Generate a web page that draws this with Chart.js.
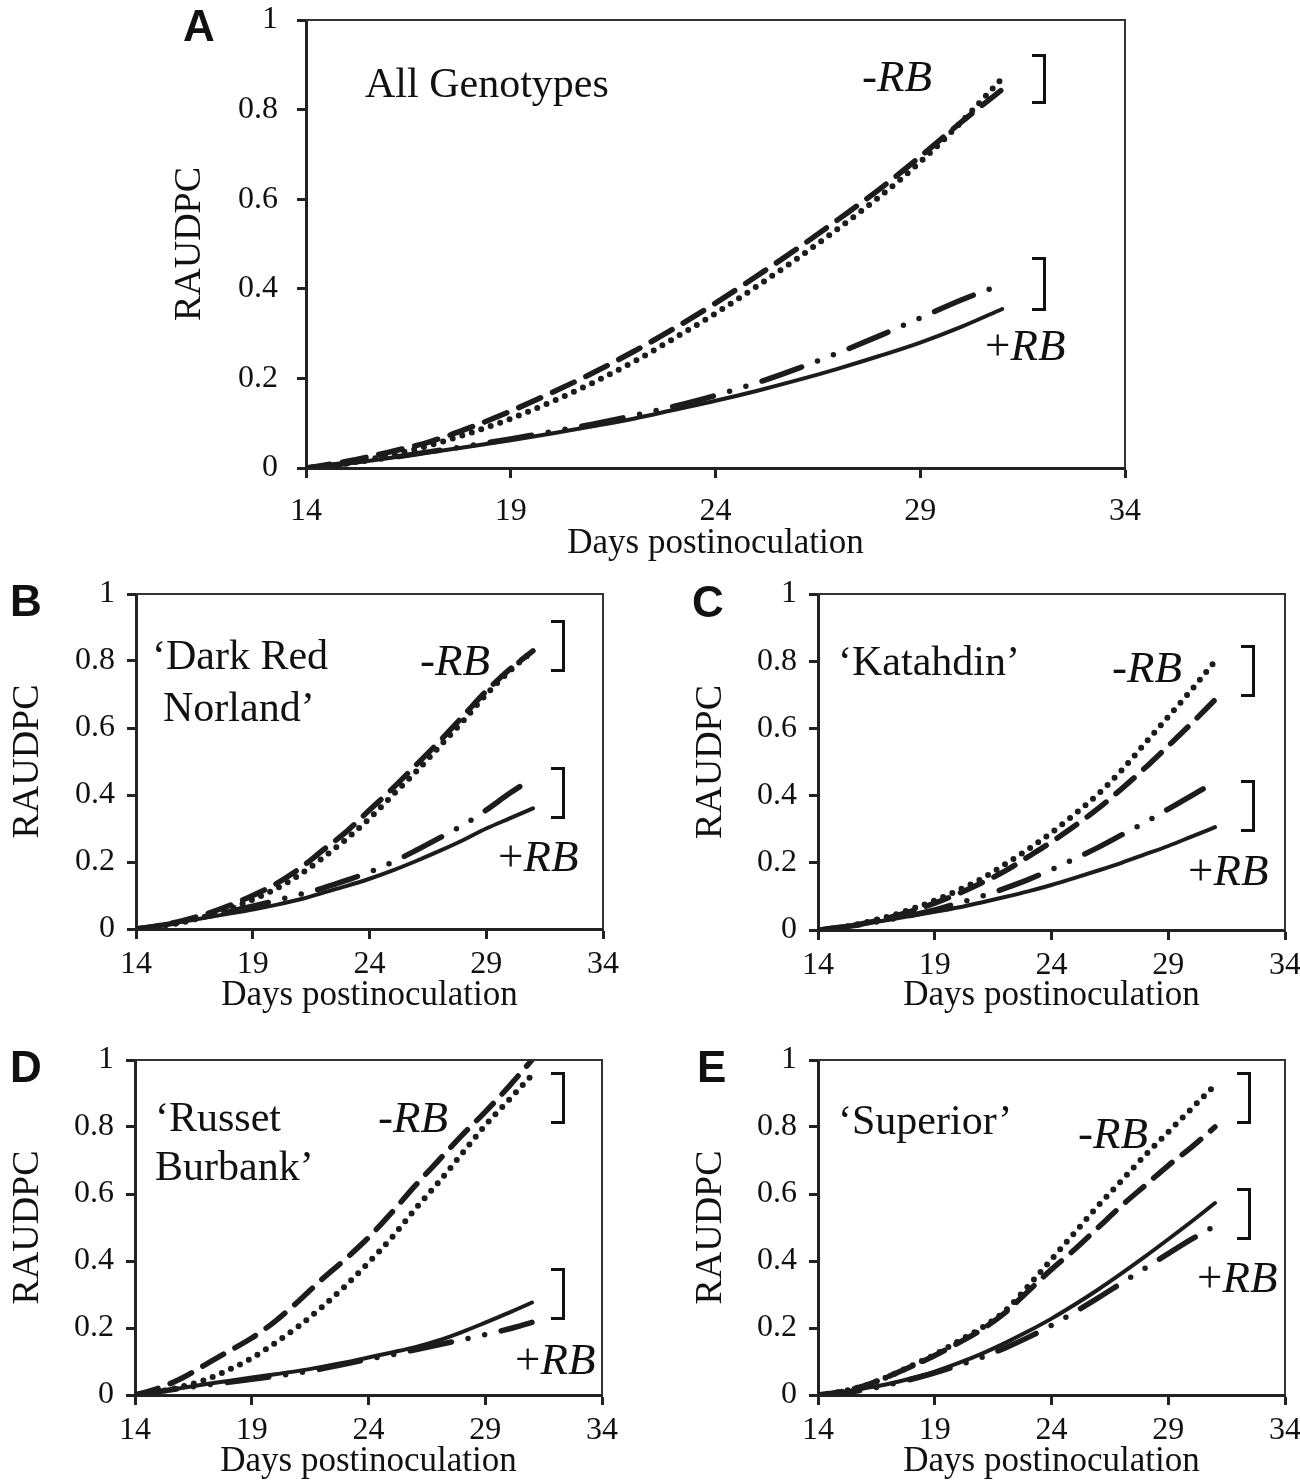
<!DOCTYPE html>
<html>
<head>
<meta charset="utf-8">
<script src="https://cdn.jsdelivr.net/npm/chart.js@4.4.1/dist/chart.umd.min.js"></script>
<style>
  html, body { margin:0; padding:0; background:#fff; overflow:hidden; }
  body { width:1300px; height:1483px; position:relative; font-family:"Liberation Serif","Times New Roman",serif; color:#111; }
  canvas { position:absolute; }
  .lbl { position:absolute; white-space:nowrap; line-height:1; font-size:42px; }
  .rb { position:absolute; white-space:nowrap; line-height:1; font-size:45px; }
  .letter { position:absolute; line-height:1; font-family:"Liberation Sans",Arial,sans-serif; font-weight:bold; font-size:44px; }
  .br { position:absolute; width:11px; border:3px solid #111; border-left:none; }
</style>
</head>
<body>
<canvas id="chartA" width="1300" height="585" style="left:0;top:-20px"></canvas>
<canvas id="chartB" width="650" height="463" style="left:0;top:554px"></canvas>
<canvas id="chartC" width="700" height="463" style="left:660px;top:554px"></canvas>
<canvas id="chartD" width="650" height="463" style="left:0;top:1020px"></canvas>
<canvas id="chartE" width="700" height="463" style="left:660px;top:1020px"></canvas>

<!-- panel A -->
<div class="letter" style="left:183px;top:4px">A</div>
<div class="lbl" style="left:365px;top:62px">All Genotypes</div>
<div class="rb" style="left:862px;top:54px">-<i>RB</i></div>
<div class="rb" style="left:985px;top:323px">+<i>RB</i></div>
<div class="br" style="left:1032px;top:54px;height:44px"></div>
<div class="br" style="left:1032px;top:257px;height:48px"></div>

<!-- panel B -->
<div class="letter" style="left:10px;top:579px">B</div>
<div class="lbl" style="left:152px;top:634px">‘Dark Red</div>
<div class="lbl" style="left:163px;top:686px">Norland’</div>
<div class="rb" style="left:420px;top:638px">-<i>RB</i></div>
<div class="rb" style="left:498px;top:834px">+<i>RB</i></div>
<div class="br" style="left:551px;top:620px;height:46px"></div>
<div class="br" style="left:551px;top:767px;height:46px"></div>

<!-- panel C -->
<div class="letter" style="left:692px;top:580px">C</div>
<div class="lbl" style="left:838px;top:640px">‘Katahdin’</div>
<div class="rb" style="left:1112px;top:645px">-<i>RB</i></div>
<div class="rb" style="left:1188px;top:848px">+<i>RB</i></div>
<div class="br" style="left:1241px;top:645px;height:46px"></div>
<div class="br" style="left:1241px;top:780px;height:46px"></div>

<!-- panel D -->
<div class="letter" style="left:10px;top:1045px">D</div>
<div class="lbl" style="left:155px;top:1096px">‘Russet</div>
<div class="lbl" style="left:155px;top:1145px">Burbank’</div>
<div class="rb" style="left:378px;top:1095px">-<i>RB</i></div>
<div class="rb" style="left:515px;top:1337px">+<i>RB</i></div>
<div class="br" style="left:551px;top:1072px;height:46px"></div>
<div class="br" style="left:551px;top:1268px;height:46px"></div>

<!-- panel E -->
<div class="letter" style="left:697px;top:1045px">E</div>
<div class="lbl" style="left:838px;top:1099px">‘Superior’</div>
<div class="rb" style="left:1078px;top:1111px">-<i>RB</i></div>
<div class="rb" style="left:1197px;top:1255px">+<i>RB</i></div>
<div class="br" style="left:1237px;top:1072px;height:46px"></div>
<div class="br" style="left:1237px;top:1188px;height:46px"></div>

<script>
// ====== DATA ======
const days = [14, 15, 16, 17, 18, 19, 20, 21, 22, 23, 24, 25, 26, 27, 28, 29, 30, 31];
const xTicks = [14, 19, 24, 29, 34];
const xTickLabels = ["14", "19", "24", "29", "34"];
const yTicks = [0, 0.2, 0.4, 0.6, 0.8, 1];
const yTickLabels = ["0", "0.2", "0.4", "0.6", "0.8", "1"];

// A: All Genotypes
const aDotted   = [0, 0.01, 0.028, 0.05, 0.078, 0.11, 0.148, 0.19, 0.237, 0.29, 0.345, 0.405, 0.468, 0.535, 0.605, 0.683, 0.772, 0.87];
const aDashed   = [0, 0.015, 0.035, 0.058, 0.09, 0.127, 0.168, 0.212, 0.26, 0.312, 0.368, 0.428, 0.49, 0.555, 0.622, 0.695, 0.772, 0.845];
const aDashDot  = [0, 0.01, 0.022, 0.036, 0.05, 0.065, 0.081, 0.098, 0.117, 0.138, 0.162, 0.19, 0.222, 0.257, 0.295, 0.335, 0.375, 0.41];
const aSolid    = [0, 0.01, 0.022, 0.035, 0.048, 0.062, 0.077, 0.093, 0.11, 0.13, 0.15, 0.172, 0.196, 0.222, 0.25, 0.28, 0.315, 0.355];

// B: Dark Red Norland
const bDotted   = [0, 0.008, 0.02, 0.038, 0.06, 0.088, 0.12, 0.162, 0.212, 0.268, 0.33, 0.4, 0.47, 0.545, 0.62, 0.7, 0.77, 0.83];
const bDashed   = [0, 0.01, 0.025, 0.045, 0.07, 0.1, 0.135, 0.18, 0.235, 0.29, 0.355, 0.42, 0.49, 0.56, 0.635, 0.71, 0.775, 0.83];
const bDashDot  = [0, 0.01, 0.022, 0.036, 0.052, 0.068, 0.085, 0.103, 0.122, 0.145, 0.17, 0.2, 0.235, 0.272, 0.31, 0.355, 0.405, 0.45];
const bSolid    = [0, 0.01, 0.022, 0.034, 0.046, 0.058, 0.072, 0.088, 0.108, 0.128, 0.15, 0.175, 0.203, 0.233, 0.265, 0.3, 0.33, 0.36];

// C: Katahdin
const cDotted   = [0, 0.008, 0.022, 0.04, 0.062, 0.088, 0.118, 0.152, 0.195, 0.24, 0.29, 0.345, 0.405, 0.475, 0.555, 0.635, 0.715, 0.8];
const cDashed   = [0, 0.008, 0.02, 0.036, 0.056, 0.08, 0.108, 0.14, 0.175, 0.218, 0.262, 0.31, 0.362, 0.42, 0.482, 0.548, 0.615, 0.685];
const cDashDot  = [0, 0.008, 0.018, 0.03, 0.044, 0.06, 0.08, 0.1, 0.124, 0.15, 0.18, 0.212, 0.246, 0.283, 0.32, 0.36, 0.4, 0.44];
const cSolid    = [0, 0.008, 0.018, 0.03, 0.042, 0.054, 0.067, 0.082, 0.098, 0.115, 0.134, 0.155, 0.177, 0.2, 0.225, 0.25, 0.278, 0.306];

// D: Russet Burbank
const dDotted   = [0, 0.01, 0.025, 0.045, 0.075, 0.11, 0.155, 0.205, 0.262, 0.325, 0.395, 0.47, 0.555, 0.635, 0.72, 0.805, 0.88, 0.955];
const dDashed   = [0, 0.02, 0.05, 0.09, 0.13, 0.17, 0.22, 0.28, 0.345, 0.405, 0.47, 0.545, 0.625, 0.7, 0.775, 0.845, 0.92, 1.0];
const dDashDot  = [0, 0.01, 0.02, 0.029, 0.038, 0.047, 0.056, 0.066, 0.078, 0.092, 0.107, 0.12, 0.135, 0.15, 0.165, 0.18, 0.197, 0.217];
const dSolid    = [0, 0.01, 0.021, 0.032, 0.042, 0.052, 0.062, 0.072, 0.084, 0.097, 0.112, 0.127, 0.143, 0.163, 0.188, 0.216, 0.245, 0.276];

// E: Superior
const eDotted   = [0, 0.01, 0.028, 0.055, 0.087, 0.12, 0.16, 0.2, 0.25, 0.325, 0.405, 0.485, 0.565, 0.64, 0.715, 0.785, 0.855, 0.925];
const eDashed   = [0, 0.01, 0.028, 0.055, 0.085, 0.118, 0.155, 0.195, 0.245, 0.31, 0.375, 0.435, 0.5, 0.565, 0.625, 0.685, 0.74, 0.8];
const eDashDot  = [0, 0.006, 0.016, 0.03, 0.047, 0.066, 0.088, 0.112, 0.14, 0.172, 0.208, 0.248, 0.29, 0.334, 0.378, 0.422, 0.465, 0.505];
const eSolid    = [0, 0.008, 0.02, 0.033, 0.05, 0.07, 0.095, 0.123, 0.155, 0.19, 0.228, 0.27, 0.315, 0.363, 0.413, 0.465, 0.518, 0.573];

// ====== STYLE ======
const SERIF = "'Liberation Serif', 'Times New Roman', serif";
const INK = "#1c1c1c";

const lineStyles = {
  dotted:  { borderWidth: 6, borderDash: [0, 10] },
  dashed:  { borderWidth: 5.5, borderDash: [24, 13] },
  dashDot: { borderWidth: 5.5, borderDash: [42, 17, 0, 17, 0, 17] },
  solid:   { borderWidth: 4, borderDash: [] }
};

// outline of the plot box (top and right sides)
const frame = {
  id: "frame",
  afterDraw(chart) {
    const { ctx, chartArea: a } = chart;
    ctx.save();
    ctx.strokeStyle = "#333";
    ctx.lineWidth = 2;
    ctx.beginPath();
    ctx.moveTo(a.left, a.top);
    ctx.lineTo(a.right, a.top);
    ctx.lineTo(a.right, a.bottom);
    ctx.stroke();
    ctx.restore();
  }
};

function series(values, style) {
  return {
    data: days.map((d, i) => ({ x: d, y: values[i] })),
    borderColor: INK,
    borderCapStyle: "round",
    borderJoinStyle: "round",
    pointRadius: 0,
    cubicInterpolationMode: "monotone",
    ...lineStyles[style]
  };
}

function makeChart(id, lines, box) {
  return new Chart(document.getElementById(id), {
    type: "line",
    data: {
      datasets: [
        series(lines[0], "dotted"),
        series(lines[1], "dashed"),
        series(lines[2], "dashDot"),
        series(lines[3], "solid")
      ]
    },
    options: {
      responsive: false,
      animation: false,
      events: [],
      layout: { padding: { left: box.padL, right: box.padR, top: 40, bottom: 0 } },
      plugins: { legend: { display: false }, tooltip: { enabled: false } },
      scales: {
        x: {
          type: "linear",
          min: 14,
          max: 34,
          afterBuildTicks: s => { s.ticks = xTicks.map(v => ({ value: v })); },
          afterFit: s => { s.height = box.xH; },
          ticks: {
            callback: (v, i) => xTickLabels[i],
            font: { family: SERIF, size: 32 },
            color: "#111",
            padding: box.xPad,
            maxRotation: 0
          },
          grid: { drawOnChartArea: false, tickLength: 10, tickWidth: 3, color: "#222" },
          border: { width: 3, color: "#222" },
          title: {
            display: true,
            text: "Days postinoculation",
            font: { family: SERIF, size: 35, lineHeight: 1.2 },
            color: "#111",
            padding: 0
          }
        },
        y: {
          min: 0,
          max: 1,
          afterBuildTicks: s => { s.ticks = yTicks.map(v => ({ value: v })); },
          afterFit: s => { s.width = box.yW; },
          ticks: {
            callback: (v, i) => yTickLabels[i],
            font: { family: SERIF, size: 32 },
            color: "#111",
            padding: box.yPad
          },
          grid: { drawOnChartArea: false, tickLength: 9, tickWidth: 3, color: "#222" },
          border: { width: 3, color: "#222" },
          title: {
            display: true,
            text: "RAUDPC",
            font: { family: SERIF, size: 38, lineHeight: 1.2 },
            color: "#111",
            padding: 0
          }
        }
      }
    },
    plugins: [frame]
  });
}

// ====== RENDER ======
makeChart("chartA", [aDotted, aDashed, aDashDot, aSolid], { padL: 167, padR: 175, yW: 139, xH: 97, yPad: 19, xPad: 14 });
makeChart("chartB", [bDotted, bDashed, bDashDot, bSolid], { padL: 5, padR: 47, yW: 131, xH: 88, yPad: 12, xPad: 6 });
makeChart("chartC", [cDotted, cDashed, cDashDot, cSolid], { padL: 28, padR: 75, yW: 130, xH: 87, yPad: 12, xPad: 6 });
makeChart("chartD", [dDotted, dDashed, dDashDot, dSolid], { padL: 5, padR: 48, yW: 130, xH: 88, yPad: 12, xPad: 6 });
makeChart("chartE", [eDotted, eDashed, eDashDot, eSolid], { padL: 28, padR: 75, yW: 130, xH: 88, yPad: 12, xPad: 6 });
</script>
</body>
</html>
